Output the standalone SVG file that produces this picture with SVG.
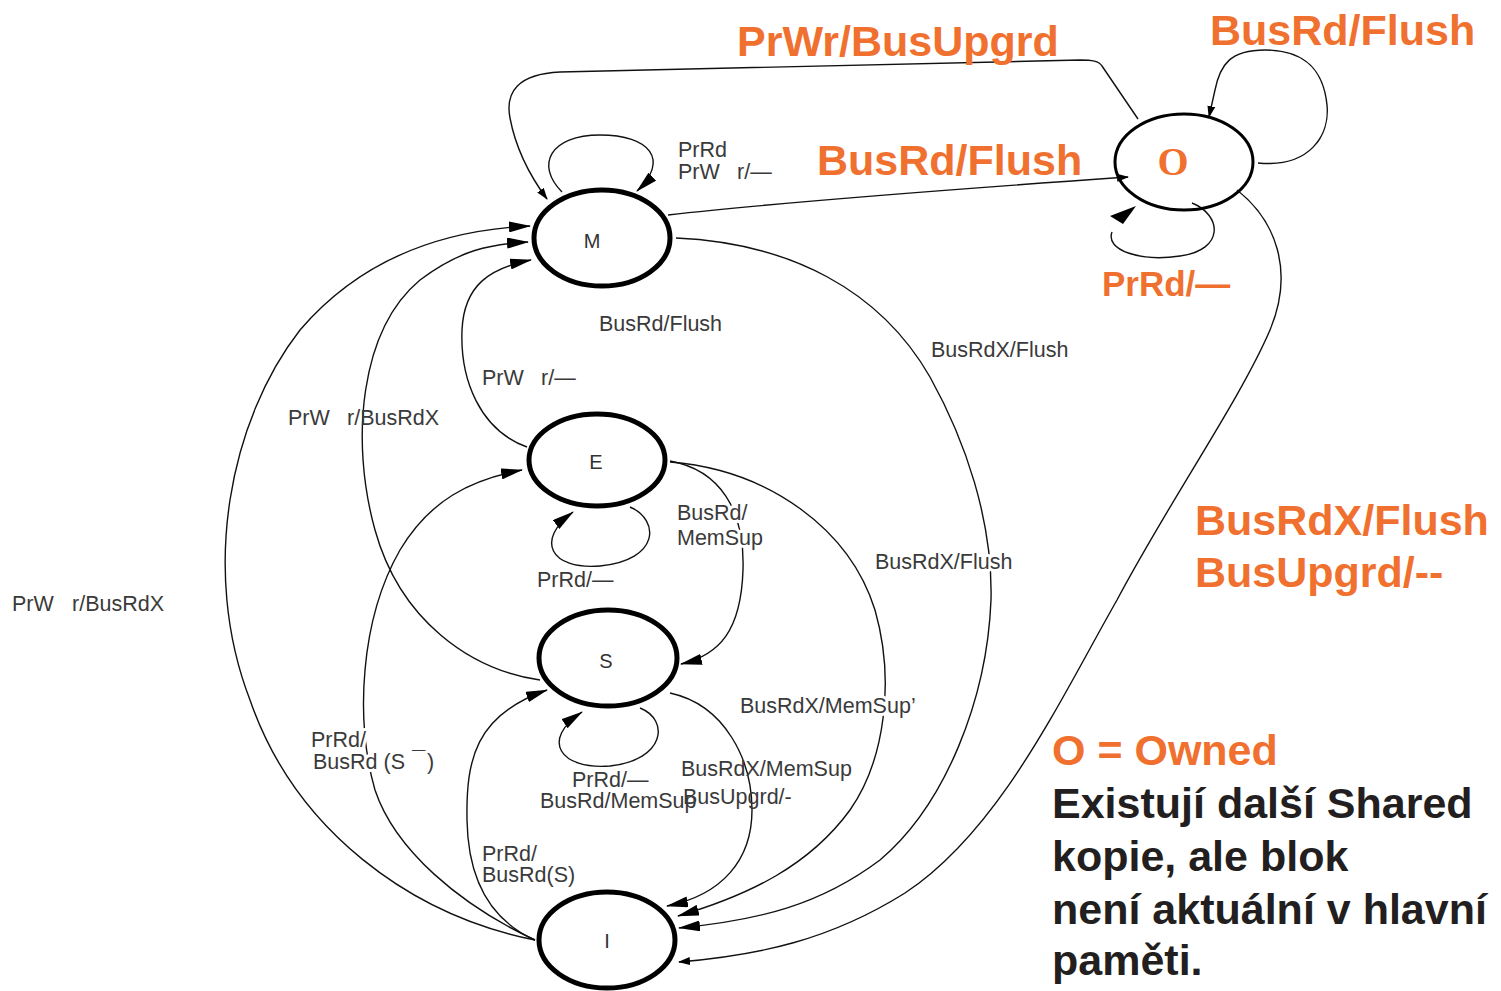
<svg xmlns="http://www.w3.org/2000/svg" width="1501" height="991" viewBox="0 0 1501 991">
  <defs>
    <style>
      .state { fill: #fff; stroke: #000; stroke-width: 5; }
      .state-o { fill: none; stroke: #000; stroke-width: 3; }
      .edge { fill: none; stroke: #111; stroke-width: 1.4; }
      .big { marker-end: url(#ah); }
      .small { marker-end: url(#ahs); }
      .lbl { font-family: "Liberation Sans", Arial, sans-serif; font-size: 21.5px; fill: #3a3a3a; }
      .halo { stroke: #fff; stroke-width: 6; paint-order: stroke; stroke-linejoin: round; }
      .st { font-family: "Liberation Sans", Arial, sans-serif; font-size: 20px; fill: #333; text-anchor: middle; }
      .org { font-family: "Liberation Sans", Arial, sans-serif; font-weight: bold; fill: #F0712F; }
      .note { font-family: "Liberation Sans", Arial, sans-serif; font-weight: bold; font-size: 43px; fill: #231F20; }
    </style>
    <marker id="ah" viewBox="0 0 22 11" refX="21" refY="5.5" markerWidth="22" markerHeight="11" markerUnits="userSpaceOnUse" orient="auto">
      <path d="M0,0 L22,5.5 L0,11 z" fill="#000"/>
    </marker>
    <marker id="ahs" viewBox="0 0 12 8" refX="11" refY="4" markerWidth="12" markerHeight="8" markerUnits="userSpaceOnUse" orient="auto">
      <path d="M0,0 L12,4 L0,8 z" fill="#000"/>
    </marker>
  </defs>

  <rect width="1501" height="991" fill="#fff"/>

  <!-- transitions -->
  <g id="connectors">
    <!-- O to M : PrWr/BusUpgrd (top arc) -->
    <path class="edge small" d="M1138,119 L1102,66 C1099,61 1092,60 1080,60 L560,72 C518,74 505,92 510,118 C516,150 530,176 547,199"/>
    <!-- M to O : BusRd/Flush -->
    <path class="edge small" d="M668,215 C800,200 1000,186 1128,177"/>
    <!-- O self loop : BusRd/Flush -->
    <path class="edge small" d="M1258,163 C1310,168 1330,135 1327,105 C1323,65 1300,50 1265,50 C1230,50 1220,65 1215,90 L1209,117"/>
    <!-- O self loop : PrRd -->
    <path class="edge" d="M1192,203 C1222,215 1225,250 1180,256 C1140,262 1105,250 1112,232"/>
    <polygon points="1110,216 1136,206 1123,224" fill="#000"/>
    <!-- O to I : BusRdX/Flush, BusUpgrd -->
    <path class="edge small" d="M1237,190 C1275,220 1295,270 1270,330 C1240,400 1170,500 1117,600 C1060,700 1000,830 905,893 C830,940 760,955 679,962"/>
    <!-- M to I : BusRdX/Flush -->
    <path class="edge big" d="M676,238 C790,243 880,290 930,377 C965,440 993,520 991,600 C987,700 945,805 880,860 C820,905 760,920 679,928"/>
    <!-- E to I : BusRdX/MemSup' -->
    <path class="edge big" d="M670,462 C770,470 850,530 875,610 C895,680 885,760 850,810 C810,865 750,895 678,916"/>
    <!-- S to I : BusRdX/MemSup, BusUpgrd -->
    <path class="edge big" d="M670,693 C725,705 752,760 752,810 C752,860 722,895 667,906"/>
    <!-- E to S : BusRd/MemSup -->
    <path class="edge big" d="M670,461 C720,470 745,510 743,570 C741,630 720,655 681,664"/>
    <!-- I to M : PrWr/BusRdX (outer arc) -->
    <path class="edge big" d="M535,940 C410,915 295,830 250,700 C200,570 230,420 300,330 C360,260 440,230 530,226"/>
    <!-- S to M : PrWr/BusRdX -->
    <path class="edge big" d="M540,680 C470,670 400,620 375,530 C350,440 360,330 420,280 C460,250 490,244 528,242"/>
    <!-- E to M : PrWr -->
    <path class="edge big" d="M527,447 C480,430 460,380 462,330 C464,285 490,268 531,260"/>
    <!-- I to E : PrRd/BusRd(S-bar) -->
    <path class="edge big" d="M535,940 C460,905 395,850 375,790 C355,720 360,620 400,550 C430,500 470,480 522,470"/>
    <!-- I to S : PrRd/BusRd(S) -->
    <path class="edge big" d="M535,940 C490,920 468,880 467,820 C466,760 475,715 547,690"/>
    <!-- M self loop -->
    <path class="edge big" d="M562,192 C535,165 550,135 600,135 C650,135 670,160 637,191"/>
    <!-- E self loop -->
    <path class="edge big" d="M630,507 C660,520 660,560 600,566 C550,570 535,540 573,512"/>
    <!-- S self loop -->
    <path class="edge big" d="M640,708 C670,720 665,760 610,766 C560,770 540,740 582,712"/>
  </g>

  <!-- states -->
  <g id="node-M">
    <ellipse class="state" cx="602" cy="238" rx="68" ry="48"/>
    <text class="st" x="592" y="248">M</text>
  </g>
  <g id="node-E">
    <ellipse class="state" cx="597" cy="460" rx="68" ry="46"/>
    <text class="st" x="596" y="469">E</text>
  </g>
  <g id="node-S">
    <ellipse class="state" cx="608" cy="658" rx="69" ry="48"/>
    <text class="st" x="606" y="668">S</text>
  </g>
  <g id="node-I">
    <ellipse class="state" cx="607" cy="940" rx="68" ry="48"/>
    <text class="st" x="607" y="948">I</text>
  </g>
  <g id="node-O">
    <ellipse class="state-o" cx="1184" cy="162" rx="69" ry="48"/>
    <text x="1173" y="175" text-anchor="middle" font-family="'Liberation Serif', 'Times New Roman', serif" font-weight="bold" font-size="40" fill="#F0712F">O</text>
  </g>

  <!-- transition labels -->
  <g id="labels">
    <text class="lbl" x="678" y="157">PrRd</text>
    <text class="lbl" y="179"><tspan x="678">PrW</tspan><tspan x="737">r/—</tspan></text>
    <text class="lbl" x="599" y="331">BusRd/Flush</text>
    <text class="lbl" x="931" y="357">BusRdX/Flush</text>
    <text class="lbl" y="385"><tspan x="482">PrW</tspan><tspan x="541">r/—</tspan></text>
    <text class="lbl" y="425"><tspan x="288">PrW</tspan><tspan x="347">r/BusRdX</tspan></text>
    <text class="lbl halo" x="677" y="520">BusRd/</text>
    <text class="lbl halo" x="677" y="545">MemSup</text>
    <text class="lbl" x="537" y="587">PrRd/—</text>
    <text class="lbl halo" x="875" y="569">BusRdX/Flush</text>
    <text class="lbl" y="611"><tspan x="12">PrW</tspan><tspan x="72">r/BusRdX</tspan></text>
    <text class="lbl halo" x="740" y="713">BusRdX/MemSup’</text>
    <text class="lbl halo" x="311" y="747">PrRd/</text>
    <text class="lbl halo" y="769"><tspan x="313">BusRd (S</tspan><tspan x="412" y="754" font-size="15">—</tspan><tspan x="427" y="769">)</tspan></text>
    <text class="lbl" x="572" y="787">PrRd/—</text>
    <text class="lbl" x="681" y="776">BusRdX/MemSup</text>
    <text class="lbl" x="683" y="804">BusUpgrd/-</text>
    <text class="lbl" x="540" y="808">BusRd/MemSup</text>
    <text class="lbl" x="482" y="861">PrRd/</text>
    <text class="lbl" x="482" y="882">BusRd(S)</text>
  </g>

  <!-- MOESI additions -->
  <g id="owned-labels">
    <text class="org" x="737" y="56" font-size="43">PrWr/BusUpgrd</text>
    <text class="org" x="1210" y="45" font-size="43">BusRd/Flush</text>
    <text class="org" x="817" y="175" font-size="43">BusRd/Flush</text>
    <text class="org" x="1102" y="296" font-size="35">PrRd/—</text>
    <text class="org" x="1195" y="535" font-size="43">BusRdX/Flush</text>
    <text class="org" x="1195" y="587" font-size="43">BusUpgrd/--</text>
  </g>

  <g id="legend">
    <text class="org" x="1052" y="765" font-size="43">O = Owned</text>
    <text class="note" x="1052" y="818">Existují další Shared</text>
    <text class="note" x="1052" y="871">kopie, ale blok</text>
    <text class="note" x="1052" y="924">není aktuální v hlavní</text>
    <text class="note" x="1052" y="975">paměti.</text>
  </g>
</svg>
